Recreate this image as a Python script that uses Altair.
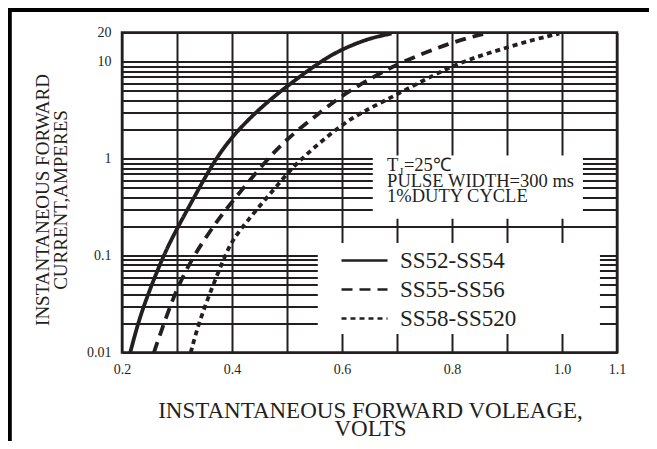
import altair as alt
import pandas as pd

INK = "#231f20"
SERIF = "Liberation Serif"

# ---- data ----
series = ["SS52-SS54", "SS55-SS56", "SS58-SS520"]

solid_v = [0.215, 0.229, 0.245, 0.275, 0.30, 0.327, 0.365, 0.40, 0.45, 0.50, 0.56, 0.60, 0.65, 0.69]
solid_i = [0.010, 0.020, 0.037, 0.10, 0.19, 0.36, 0.90, 1.7, 3.3, 5.6, 10.0, 13.5, 17.5, 19.5]

dashed_v = [0.258, 0.28, 0.30, 0.33, 0.371, 0.40, 0.465, 0.50, 0.55, 0.60, 0.65, 0.70, 0.80, 0.86]
dashed_i = [0.010, 0.023, 0.046, 0.10, 0.22, 0.36, 1.0, 1.6, 2.7, 4.5, 6.6, 9.5, 16.0, 19.5]

dotted_v = [0.325, 0.342, 0.387, 0.40, 0.419, 0.50, 0.526, 0.60, 0.65, 0.70, 0.75, 0.80, 0.85, 0.90, 0.95, 0.995]
dotted_i = [0.010, 0.023, 0.10, 0.14, 0.20, 0.70, 1.0, 2.3, 3.3, 4.6, 6.5, 9.0, 11.5, 14.0, 17.0, 19.5]

x_grid = [0.2, 0.3, 0.4, 0.5, 0.6, 0.7, 0.8, 0.9, 1.0, 1.1]
x_labels = ["0.2", "0.4", "0.6", "0.8", "1.0", "1.1"]
y_grid = [0.01, 0.02, 0.03, 0.04, 0.05, 0.06, 0.07, 0.08, 0.09,
          0.1, 0.2, 0.3, 0.4, 0.5, 0.6, 0.7, 0.8, 0.9,
          1, 2, 3, 4, 5, 6, 7, 8, 9, 10, 20]
y_labels = [20, 10, 1, 0.1, 0.01]

# white boxes behind the note and the legend (data coordinates)
box_x = [0.656, 0.556]
box_x2 = [1.038, 1.069]
box_y = [0.24, 0.0155]
box_y2 = [1.08, 0.135]

note_text = ["T", "=25\u2103", "PULSE WIDTH=300 ms", "1%DUTY CYCLE"]
note_x = [0.682, 0.7125, 0.682, 0.682]
note_y = [0.745, 0.745, 0.51, 0.357]
sub_text = ["J"]
sub_x = [0.7035]
sub_y = [0.68]

rows = []
for name, vs, cs in zip(series, [solid_v, dashed_v, dotted_v], [solid_i, dashed_i, dotted_i]):
    for v, c in zip(vs, cs):
        rows.append({"series": name, "v": v, "i": c})
curves = pd.DataFrame(rows)

boxes = pd.DataFrame({"x": box_x, "x2": box_x2, "y": box_y, "y2": box_y2})
notes = pd.DataFrame({"t": note_text, "x": note_x, "y": note_y})
subs = pd.DataFrame({"t": sub_text, "x": sub_x, "y": sub_y})

xs = alt.Scale(domain=[0.2, 1.1], nice=False, zero=False)
ys = alt.Scale(type="log", domain=[0.01, 20], nice=False)

x_label_expr = "indexof(" + str(x_labels) + ", format(datum.value, '.1f')) >= 0 ? format(datum.value, '.1f') : ''"
y_label_expr = "indexof(" + str(y_labels) + ", datum.value) >= 0 ? format(datum.value, '~g') : ''"

x_axis = alt.Axis(
    values=x_grid, grid=True, ticks=False, domain=False,
    labelExpr=x_label_expr, labelFont=SERIF, labelFontSize=14, labelColor=INK,
    labelPadding=10, labelFlush=False,
    title=["INSTANTANEOUS FORWARD VOLEAGE,", "VOLTS"],
    titleFont=SERIF, titleFontSize=23, titleFontWeight="normal", titleColor=INK,
    titleLineHeight=18, titleBaseline="alphabetic", titleY=65, titleX=248,
    gridColor=INK, gridWidth=2, gridOpacity=1,
)
y_axis = alt.Axis(
    values=y_grid, grid=True, ticks=False, domain=False,
    labelExpr=y_label_expr, labelFont=SERIF, labelFontSize=14, labelColor=INK,
    labelPadding=11, labelFlush=False,
    title=["INSTANTANEOUS FORWARD", "CURRENT,AMPERES"],
    titleFont=SERIF, titleFontSize=19, titleFontWeight="normal", titleColor=INK,
    titleLineHeight=18, titleBaseline="alphabetic", titleAngle=-90,
    titleX=-74, titleY=167, titleAlign="center",
    gridColor=INK, gridWidth=2, gridOpacity=1,
)

lines = alt.Chart(curves).mark_line(color=INK, strokeWidth=3.8, interpolate="basis").encode(
    x=alt.X("v:Q", scale=xs, axis=x_axis),
    y=alt.Y("i:Q", scale=ys, axis=y_axis),
    strokeDash=alt.StrokeDash(
        "series:N",
        scale=alt.Scale(domain=series, range=[[1, 0], [11, 7], [5, 4]]),
        legend=alt.Legend(
            orient="none", legendX=229.5, legendY=215, title=None,
            symbolType="M-2,0H2", symbolSize=529, symbolStrokeWidth=2.5,
            symbolStrokeColor=INK, symbolFillColor="transparent",
            labelFont=SERIF, labelFontSize=23,
            labelColor=INK, labelOffset=22.5, rowPadding=4, padding=0,
        ),
    ),
    detail="series:N",
)

white = alt.Chart(boxes).mark_rect(fill="white", stroke=None).encode(
    x=alt.X("x:Q", scale=xs), x2="x2:Q",
    y=alt.Y("y:Q", scale=ys), y2="y2:Q",
)

note = alt.Chart(notes).mark_text(
    font=SERIF, fontSize=18.5, color=INK, align="left", baseline="alphabetic"
).encode(x=alt.X("x:Q", scale=xs), y=alt.Y("y:Q", scale=ys), text="t:N")

sub = alt.Chart(subs).mark_text(
    font=SERIF, fontSize=11, color=INK, align="left", baseline="alphabetic"
).encode(x=alt.X("x:Q", scale=xs), y=alt.Y("y:Q", scale=ys), text="t:N")

frame_top = alt.Chart(boxes).mark_rule(color="black", strokeWidth=4).encode(
    x=alt.value(-114), x2=alt.value(527), y=alt.value(-22.5)
)
frame_left = alt.Chart(boxes).mark_rule(color="black", strokeWidth=3.5).encode(
    x=alt.value(-112.2), y=alt.value(-24.5), y2=alt.value(408.5)
)

chart = alt.layer(white, lines, note, sub, frame_top, frame_left).properties(
    width=495, height=320,
    padding={"left": 114, "top": 24.5, "right": 32, "bottom": 88.5},
    autosize=alt.AutoSizeParams(type="none"),
    background="white",
).configure_view(stroke=INK, strokeWidth=2.5)

chart.save("out.html", embed_options={"renderer": "svg", "actions": False})
